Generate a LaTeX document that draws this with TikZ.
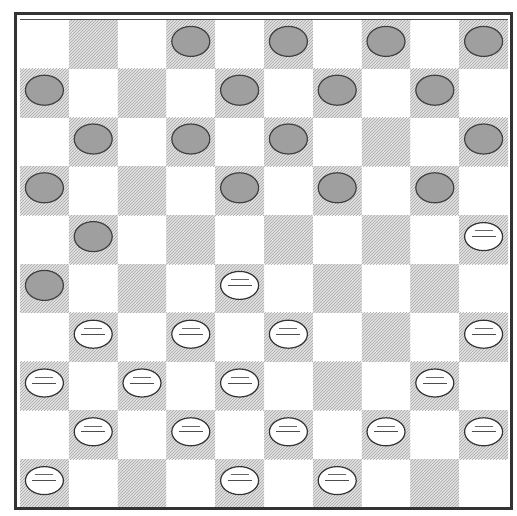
\documentclass[tikz,border=0pt]{standalone}
\usetikzlibrary{patterns,shapes.geometric}
\tikzset{
  darksq/.style={fill=gray!22, postaction={pattern=north east lines, pattern color=gray!70}},
  blackpc/.style={ellipse, minimum width=38pt, minimum height=30pt, inner sep=0pt, fill=gray!75, draw=gray!50!black, line width=1.2pt},
  whitepc/.style={ellipse, minimum width=38pt, minimum height=28pt, inner sep=0pt, fill=white, draw=black!80, line width=1.2pt,
    path picture={\draw[black!70, line width=0.8pt] ([xshift=-12pt]path picture bounding box.center) -- ([xshift=12pt]path picture bounding box.center);
                  \draw[black!60, line width=0.6pt] ([xshift=-9pt,yshift=6pt]path picture bounding box.center) -- ([xshift=9pt,yshift=6pt]path picture bounding box.center);}},
  frame/.style={draw=black!80, line width=3pt}
}
\begin{document}
\begin{tikzpicture}[x=1pt,y=-1pt]
\useasboundingbox (0,0) rectangle (517,515);
\fill[white] (0,0) rectangle (517,515);
\def\s{48.8}
\def\o{20}
% squares
\foreach \r in {0,...,9}{
  \foreach \c in {0,...,9}{
    \pgfmathtruncatemacro{\p}{mod(\r+\c,2)}
    \ifnum\p=1
      \path[darksq] ({\o+\s*\c},{\o+\s*\r}) rectangle ++(\s,\s);
    \fi
  }
}
% frame
\draw[frame] (15,13) rectangle (511,508);
\draw[black!70, line width=1pt] (20,19.5) -- (508,19.5);
% black pieces
\foreach \r/\c in {0/3,0/5,0/7,0/9,1/0,1/4,1/6,1/8,2/1,2/3,2/5,2/9,3/0,3/4,3/6,3/8,4/1,5/0}{
  \node[blackpc] (b-\r-\c) at ({\o+\s*(\c+0.5)},{\o+\s*(\r+0.5)-3}) {};
}
% white pieces
\foreach \r/\c in {4/9,5/4,6/1,6/3,6/5,6/9,7/0,7/2,7/4,7/8,8/1,8/3,8/5,8/7,8/9,9/0,9/4,9/6}{
  \node[whitepc] (w-\r-\c) at ({\o+\s*(\c+0.5)},{\o+\s*(\r+0.5)-3}) {};
}
\end{tikzpicture}
\end{document}
